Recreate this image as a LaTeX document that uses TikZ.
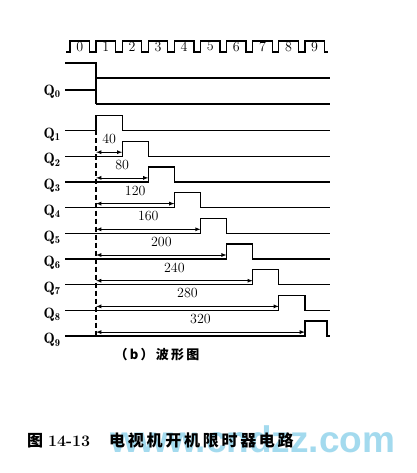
\documentclass[tikz,border=0pt]{standalone}
\usepackage{fontspec}
\newfontfamily\cjk{Noto Sans CJK SC}
\newfontfamily\cjkwide{Noto Sans CJK SC}[LetterSpace=17]
\newfontfamily\wmfont{Liberation Sans}
\usetikzlibrary{arrows}
\definecolor{wmblue}{RGB}{125,203,232}
\tikzset{
  wave/.style={line width=1.3pt},
  dimline/.style={line width=0.8pt,latex-latex},
  qlabel/.style={font=\fontsize{15}{15}\selectfont},
  numlabel/.style={font=\fontsize{14}{14}\selectfont,inner sep=0pt},
}
\begin{document}
\begin{tikzpicture}[x=1pt,y=-1pt]
\fill[white] (0,0) rectangle (416,473);
\useasboundingbox (0,0) rectangle (416,473);

% clock
\draw[wave] (66,52) \foreach \k in {0,...,9}{ -- ({70+26.1*\k},52) -- ++(0,-11) -- ++(19.5,0) -- ++(0,11) } -- (328,52);
\foreach \k in {0,...,9}
  \node[numlabel] (c\k) at ({79.75+26.1*\k},46.5) {\k};

% Q0
\node[qlabel] (q0) at (52,92) {$\mathbf{Q_{0}}$};
\draw[wave] (65,63) -- (96.1,63) -- (96.1,104);
\draw[wave] (65,90) -- (96.1,90);
\draw[wave] (96.1,78) -- (330,78);
\draw[wave] (96.1,104) -- (330,104);

% Q1 ... Q9
\foreach \n in {1,...,9}{
  \pgfmathsetmacro{\b}{130.5+25.7*(\n-1)}
  \pgfmathsetmacro{\ta}{70+26.1*\n}
  \pgfmathsetmacro{\tb}{min(\ta+26.1,327)}
  \node[qlabel] (q\n) at (52,\b+4) {$\mathbf{Q_{\n}}$};
  \draw[wave] (65,\b) -- (\ta,\b) -- (\ta,\b-15) -- (\tb,\b-15) -- (\tb,\b) -- (330,\b);
}

% delays
\foreach \n in {2,...,9}{
  \pgfmathsetmacro{\b}{130.5+25.7*(\n-1)}
  \pgfmathsetmacro{\ta}{70+26.1*\n}
  \pgfmathtruncatemacro{\len}{40*(\n-1)}
  \draw[dimline] (96.1,\b-4) -- (\ta,\b-4);
  \node[numlabel] (d\n) at ({(96.1+\ta)/2},\b-17) {\len};
}
\draw[wave,dash pattern=on 5pt off 3pt] (96.1,130.5) -- (96.1,336.1);

% captions
\node[text=wmblue,opacity=0.7,font=\wmfont\bfseries\fontsize{37}{37}\selectfont] (wm) at (253,439) {www.cndzz.com};
\node[font=\fontsize{13}{13}\selectfont] (sub) at (157,355) {\cjkwide\bfseries （b）波形图};
\node[anchor=west,inner sep=0pt,font=\fontsize{16}{16}\selectfont] (fig) at (27,440)
  {\cjk\bfseries 图\hspace{5pt}{\rmfamily\bfseries 14-13}\hspace{19pt}{\cjkwide\bfseries 电视机开机限时器电路}};
\end{tikzpicture}
\end{document}
